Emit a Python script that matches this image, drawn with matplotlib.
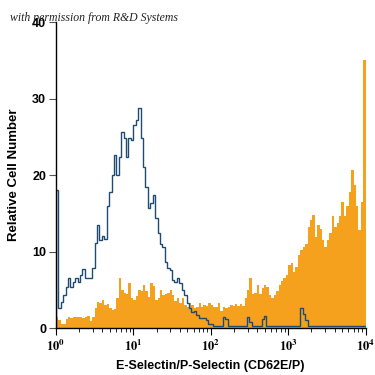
import numpy as np
import matplotlib
matplotlib.use("Agg")
import matplotlib.pyplot as plt
from matplotlib.ticker import FixedLocator, LogLocator, NullFormatter, FuncFormatter

plt.rcParams["mathtext.fontset"] = "stix"

# ---- data (128 log-spaced bins from 10^0 to 10^4) ----
x_range = (0, 4)  # log10 decades
n_bins = 128

isotype_counts = [
    18.0, 2.6, 3.4, 4.3, 5.4, 6.5, 5.4, 6.0, 6.5, 6.0,
    6.9, 7.7, 6.6, 6.5, 6.5, 7.8, 11.1, 13.5, 11.5, 12.0,
    11.6, 16.0, 17.8, 20.0, 22.6, 20.0, 22.4, 25.7, 24.8, 22.4,
    24.8, 24.6, 26.5, 27.2, 28.8, 24.8, 21.0, 18.5, 15.7, 16.3,
    17.4, 14.4, 12.4, 11.0, 10.6, 8.7, 7.8, 7.6, 6.3, 6.0,
    6.5, 5.9, 5.0, 4.3, 3.3, 2.6, 2.1, 2.3, 1.7, 1.3,
    1.3, 1.3, 1.0, 0.6, 0.6, 0.3, 0.3, 0.3, 0.3, 1.5,
    1.2, 0.3, 0.3, 0.3, 0.3, 0.3, 0.3, 0.3, 0.3, 1.5,
    0.8, 0.3, 0.3, 0.3, 0.3, 1.2, 1.6, 0.3, 0.3, 0.3,
    0.3, 0.3, 0.3, 0.3, 0.3, 0.3, 0.3, 0.3, 0.3, 0.3,
    0.3, 2.6, 1.8, 1.0, 0.3, 0.3, 0.3, 0.3, 0.3, 0.3,
    0.3, 0.3, 0.3, 0.3, 0.3, 0.3, 0.3, 0.3, 0.3, 0.3,
    0.3, 0.3, 0.3, 0.3, 0.3, 0.3, 0.3, 0.3,
]

stained_counts = [
    1.5, 1.0, 0.6, 0.6, 1.2, 1.5, 1.3, 1.5, 1.4, 1.5,
    1.5, 1.3, 1.5, 1.6, 0.9, 1.4, 2.6, 3.4, 3.3, 3.7,
    3.0, 3.2, 2.6, 2.4, 2.5, 4.0, 6.5, 5.0, 4.6, 4.5,
    5.9, 4.0, 3.7, 4.2, 5.0, 4.8, 5.6, 4.8, 4.1, 5.9,
    5.5, 3.7, 4.0, 5.0, 4.3, 4.5, 4.6, 5.0, 4.3, 3.6,
    3.9, 3.3, 3.9, 3.0, 2.8, 3.3, 3.0, 2.6, 2.7, 3.3,
    2.8, 3.0, 2.9, 3.3, 3.0, 2.8, 2.7, 3.3, 2.2, 2.8,
    2.6, 2.7, 3.0, 2.9, 3.1, 2.9, 3.1, 2.9, 3.9, 5.0,
    6.5, 4.5, 4.6, 5.6, 4.5, 5.2, 5.6, 5.4, 4.3, 4.0,
    4.3, 4.8, 5.6, 6.1, 6.5, 6.9, 8.2, 8.5, 7.4, 8.0,
    9.5, 10.2, 10.6, 11.0, 13.2, 14.1, 14.8, 11.9, 13.5, 13.0,
    11.5, 10.6, 11.5, 12.4, 14.6, 13.2, 13.8, 14.6, 16.5, 14.6,
    16.0, 17.8, 20.7, 18.7, 16.0, 12.8, 16.5, 35.0,
]

y_ticks = [0, 10, 20, 30, 40]
x_label = "E-Selectin/P-Selectin (CD62E/P)"
y_label = "Relative Cell Number"
watermark = "with permission from R&D Systems"

orange = "#F6A11E"
navy = "#1F4A72"

edges = np.logspace(x_range[0], x_range[1], n_bins + 1)

fig = plt.figure(figsize=(3.75, 3.75), dpi=100)
ax = fig.add_axes([0.149, 0.125, 0.826, 0.816])

ax.stairs(stained_counts, edges, fill=True, color=orange, linewidth=0)
ax.stairs(isotype_counts, edges, color=navy, linewidth=1.0, baseline=0)

ax.set_xscale("log")
ax.set_xlim(1, 1e4)
ax.set_ylim(0, 40)
ax.yaxis.set_major_locator(FixedLocator(y_ticks))
ax.xaxis.set_major_locator(LogLocator(base=10, numticks=10))
ax.xaxis.set_major_formatter(FuncFormatter(
    lambda v, p: r"$\mathbf{10^{%d}}$" % int(round(np.log10(v)))))
ax.xaxis.set_minor_locator(LogLocator(base=10, subs=np.arange(2, 10), numticks=20))
ax.xaxis.set_minor_formatter(NullFormatter())

for s in ["top", "right"]:
    ax.spines[s].set_visible(False)
for s in ["left", "bottom"]:
    ax.spines[s].set_linewidth(1.0)
    ax.spines[s].set_color("black")

ax.tick_params(axis="y", which="major", length=5, width=0.8, color="#555555",
               labelsize=9, pad=2)
ax.tick_params(axis="x", which="major", length=5, width=0.8, labelsize=9, pad=3)
ax.tick_params(axis="x", which="minor", length=3, width=0.6)
for lab in ax.get_yticklabels():
    lab.set_fontweight("bold")
    lab.set_family("Liberation Sans")

ax.set_xlabel(x_label, fontsize=9, fontweight="bold", family="Liberation Sans", labelpad=4)
ax.set_ylabel(y_label, fontsize=9.5, fontweight="bold", family="Liberation Sans", labelpad=9)

fig.text(0.027, 0.952, watermark, fontsize=8.5, style="italic", family="Liberation Serif",
         color="#222222", va="center", ha="left")

fig.savefig("out.png", dpi=100)
